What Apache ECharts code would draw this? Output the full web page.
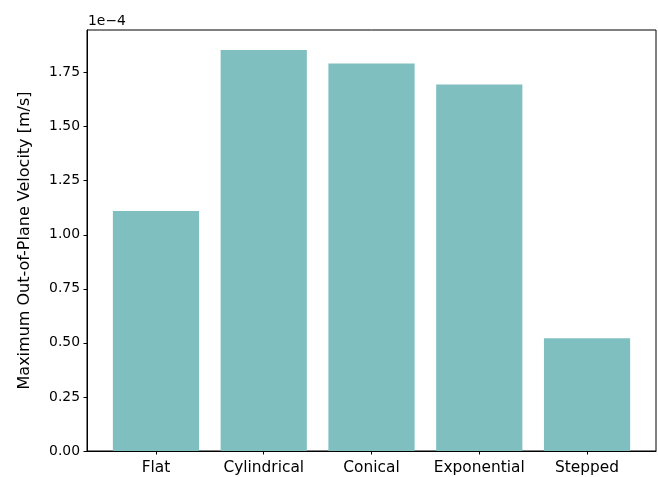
<!DOCTYPE html>
<html>
<head>
<meta charset="utf-8">
<script src="https://cdn.jsdelivr.net/npm/echarts@6/dist/echarts.min.js"></script>
<style>
html,body{margin:0;padding:0;background:#fff;}
#chart{width:658px;height:477px;}
</style>
</head>
<body>
<div id="chart"></div>
<script>
const categories = ["Flat", "Cylindrical", "Conical", "Exponential", "Stepped"];
const values = [1.110, 1.854, 1.792, 1.695, 0.521]; // in units of 1e-4 m/s
const yTicks = [0, 0.25, 0.5, 0.75, 1.0, 1.25, 1.5, 1.75];
const yLabel = "Maximum Out-of-Plane Velocity [m/s]";
const offsetText = "1e\u22124";

const chart = echarts.init(document.getElementById('chart'), null, {renderer: 'canvas'});
const font = 'DejaVu Sans';
const positions = categories.map((c, i) => i);
const xMin = -0.64, xMax = 4.64;
const gridW = 658 - 87 - 2;
const barW = gridW / (xMax - xMin) * 0.8;

chart.setOption({
  animation: false,
  backgroundColor: '#ffffff',
  grid: {left: 87, top: 30, right: 2, bottom: 26, show: true, borderColor: '#000', borderWidth: 1, backgroundColor: 'transparent'},
  graphic: [{
    type: 'text', left: 88, top: 14,
    style: {text: offsetText, font: '13.9px "DejaVu Sans"', fill: '#000'}
  }],
  xAxis: {
    type: 'value', min: xMin, max: xMax,
    splitLine: {show: false},
    axisLine: {show: true, onZero: false, lineStyle: {color: '#000', width: 1}},
    axisTick: {show: true, customValues: positions, length: 3.5, lineStyle: {color: '#000'}},
    axisLabel: {show: true, customValues: positions, margin: 9, color: '#000', fontFamily: font, fontSize: 15.4,
      formatter: v => categories[Math.round(v)] || ''}
  },
  yAxis: {
    type: 'value', min: 0, max: 1.947, interval: 0.25,
    name: yLabel, nameLocation: 'middle', nameGap: 54,
    nameTextStyle: {color: '#000', fontFamily: font, fontSize: 16},
    splitLine: {show: false},
    axisLine: {show: true, onZero: false, lineStyle: {color: '#000', width: 1}},
    axisTick: {show: true, customValues: yTicks, length: 3.5, lineStyle: {color: '#000'}},
    axisLabel: {show: true, customValues: yTicks, margin: 7, color: '#000', fontFamily: font, fontSize: 13.9,
      formatter: v => v.toFixed(2)}
  },
  series: [{
    type: 'bar',
    data: values.map((v, i) => [i, v]),
    barWidth: barW,
    itemStyle: {color: '#80bfbf'}
  }]
});
</script>
</body>
</html>
